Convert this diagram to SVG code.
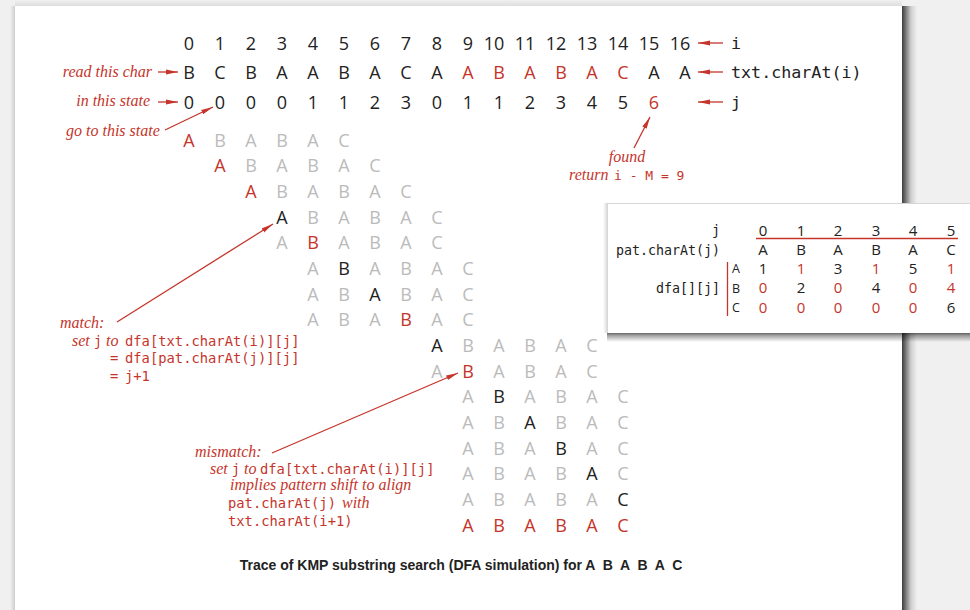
<svg xmlns="http://www.w3.org/2000/svg" width="970" height="610" viewBox="0 0 970 610">
<style>
.bg{fill:#f0f0f0}
.pg{fill:#ffffff}
.s{font-family:"Open Sans","DejaVu Sans",sans-serif;font-size:18px;text-anchor:middle}
.ts{font-family:"Open Sans","DejaVu Sans",sans-serif;font-size:15px;text-anchor:middle}
.tl{font-family:"Open Sans","DejaVu Sans",sans-serif;font-size:12.5px;text-anchor:middle;fill:#222}
.k{fill:#222}
.r{fill:#c5352b}
.l{fill:#bbbbbb}
.it{font-family:"Liberation Serif",serif;font-style:italic;font-size:16px;fill:#c5352b}
.ma{font-family:"DejaVu Sans Mono",monospace;font-style:normal;font-size:13.8px;fill:#c5352b}
.lab{font-family:"DejaVu Sans Mono",monospace;font-size:16.7px;fill:#222}
.tm{font-family:"DejaVu Sans Mono",monospace;font-size:13.3px;fill:#222;text-anchor:end}
.cap{font-family:"Liberation Sans",Arial,sans-serif;font-weight:bold;font-size:14px;fill:#222;text-anchor:middle;white-space:pre}
.ln{stroke:#c5352b;stroke-width:1.3;fill:none}
.arr{stroke:#c5352b;stroke-width:1.3;fill:none;marker-end:url(#ah)}
</style>
<defs>
<marker id="ah" viewBox="0 0 12 6" refX="12" refY="3" markerWidth="12" markerHeight="6" markerUnits="userSpaceOnUse" orient="auto"><path d="M0,0.6 L12,3 L0,5.4 z" fill="#c5352b"/></marker>
<linearGradient id="shR" x1="0" y1="0" x2="1" y2="0"><stop offset="0" stop-color="#000" stop-opacity="0.75"/><stop offset="0.25" stop-color="#000" stop-opacity="0.5"/><stop offset="0.6" stop-color="#000" stop-opacity="0.14"/><stop offset="1" stop-color="#000" stop-opacity="0"/></linearGradient>
<linearGradient id="shB" x1="0" y1="0" x2="0" y2="1"><stop offset="0" stop-color="#000" stop-opacity="0.6"/><stop offset="0.3" stop-color="#000" stop-opacity="0.35"/><stop offset="1" stop-color="#000" stop-opacity="0"/></linearGradient>
<linearGradient id="shL" x1="1" y1="0" x2="0" y2="0"><stop offset="0" stop-color="#000" stop-opacity="0.14"/><stop offset="1" stop-color="#000" stop-opacity="0"/></linearGradient>
<linearGradient id="shT" x1="0" y1="1" x2="0" y2="0"><stop offset="0" stop-color="#000" stop-opacity="0.08"/><stop offset="1" stop-color="#000" stop-opacity="0"/></linearGradient>
</defs>

<g id="page">
<rect class="bg" x="0" y="0" width="970" height="610"/>
<rect x="902" y="6" width="15" height="604" fill="url(#shR)"/>
<rect x="10" y="6" width="5" height="604" fill="url(#shL)"/>
<rect x="15" y="0" width="887" height="6" fill="url(#shT)"/>
<rect class="pg" x="15" y="6" width="887" height="604"/>
</g>

<g id="index-row" class="s k">
<text x="189" y="49.5">0</text><text x="220" y="49.5">1</text><text x="251" y="49.5">2</text><text x="282" y="49.5">3</text><text x="313" y="49.5">4</text><text x="344" y="49.5">5</text><text x="375" y="49.5">6</text><text x="406" y="49.5">7</text><text x="437" y="49.5">8</text><text x="468" y="49.5">9</text><text x="494" y="49.5">10</text><text x="525" y="49.5">11</text><text x="556" y="49.5">12</text><text x="587" y="49.5">13</text><text x="618" y="49.5">14</text><text x="649" y="49.5">15</text><text x="680" y="49.5">16</text>
</g>

<g id="text-row" class="s">
<text y="78.5"><tspan class="k" x="189">B</tspan><tspan class="k" x="220">C</tspan><tspan class="k" x="251">B</tspan><tspan class="k" x="282">A</tspan><tspan class="k" x="313">A</tspan><tspan class="k" x="344">B</tspan><tspan class="k" x="375">A</tspan><tspan class="k" x="406">C</tspan><tspan class="k" x="437">A</tspan><tspan class="r" x="468">A</tspan><tspan class="r" x="499">B</tspan><tspan class="r" x="530">A</tspan><tspan class="r" x="561">B</tspan><tspan class="r" x="592">A</tspan><tspan class="r" x="623">C</tspan><tspan class="k" x="654">A</tspan><tspan class="k" x="685">A</tspan></text>
</g>

<g id="state-row" class="s">
<text y="108.5"><tspan class="k" x="189">0</tspan><tspan class="k" x="220">0</tspan><tspan class="k" x="251">0</tspan><tspan class="k" x="282">0</tspan><tspan class="k" x="313">1</tspan><tspan class="k" x="344">1</tspan><tspan class="k" x="375">2</tspan><tspan class="k" x="406">3</tspan><tspan class="k" x="437">0</tspan><tspan class="k" x="468">1</tspan><tspan class="k" x="499">1</tspan><tspan class="k" x="530">2</tspan><tspan class="k" x="561">3</tspan><tspan class="k" x="592">4</tspan><tspan class="k" x="623">5</tspan><tspan class="r" x="654">6</tspan></text>
</g>

<g id="row-labels">
<text class="lab" x="731" y="49">i</text>
<text class="lab" x="731" y="78">txt.charAt(i)</text>
<text class="lab" x="731" y="108">j</text>
</g>

<g id="trace" class="s">
<text id="trace-0" y="146.5"><tspan class="r" x="189">A</tspan><tspan class="l" x="220">B</tspan><tspan class="l" x="251">A</tspan><tspan class="l" x="282">B</tspan><tspan class="l" x="313">A</tspan><tspan class="l" x="344">C</tspan></text>
<text id="trace-1" y="172.2"><tspan class="r" x="220">A</tspan><tspan class="l" x="251">B</tspan><tspan class="l" x="282">A</tspan><tspan class="l" x="313">B</tspan><tspan class="l" x="344">A</tspan><tspan class="l" x="375">C</tspan></text>
<text id="trace-2" y="197.8"><tspan class="r" x="251">A</tspan><tspan class="l" x="282">B</tspan><tspan class="l" x="313">A</tspan><tspan class="l" x="344">B</tspan><tspan class="l" x="375">A</tspan><tspan class="l" x="406">C</tspan></text>
<text id="trace-3" y="223.5"><tspan class="k" x="282">A</tspan><tspan class="l" x="313">B</tspan><tspan class="l" x="344">A</tspan><tspan class="l" x="375">B</tspan><tspan class="l" x="406">A</tspan><tspan class="l" x="437">C</tspan></text>
<text id="trace-4" y="249.2"><tspan class="l" x="282">A</tspan><tspan class="r" x="313">B</tspan><tspan class="l" x="344">A</tspan><tspan class="l" x="375">B</tspan><tspan class="l" x="406">A</tspan><tspan class="l" x="437">C</tspan></text>
<text id="trace-5" y="274.8"><tspan class="l" x="313">A</tspan><tspan class="k" x="344">B</tspan><tspan class="l" x="375">A</tspan><tspan class="l" x="406">B</tspan><tspan class="l" x="437">A</tspan><tspan class="l" x="468">C</tspan></text>
<text id="trace-6" y="300.5"><tspan class="l" x="313">A</tspan><tspan class="l" x="344">B</tspan><tspan class="k" x="375">A</tspan><tspan class="l" x="406">B</tspan><tspan class="l" x="437">A</tspan><tspan class="l" x="468">C</tspan></text>
<text id="trace-7" y="326.2"><tspan class="l" x="313">A</tspan><tspan class="l" x="344">B</tspan><tspan class="l" x="375">A</tspan><tspan class="r" x="406">B</tspan><tspan class="l" x="437">A</tspan><tspan class="l" x="468">C</tspan></text>
<text id="trace-8" y="351.9"><tspan class="k" x="437">A</tspan><tspan class="l" x="468">B</tspan><tspan class="l" x="499">A</tspan><tspan class="l" x="530">B</tspan><tspan class="l" x="561">A</tspan><tspan class="l" x="592">C</tspan></text>
<text id="trace-9" y="377.5"><tspan class="l" x="437">A</tspan><tspan class="r" x="468">B</tspan><tspan class="l" x="499">A</tspan><tspan class="l" x="530">B</tspan><tspan class="l" x="561">A</tspan><tspan class="l" x="592">C</tspan></text>
<text id="trace-10" y="403.2"><tspan class="l" x="468">A</tspan><tspan class="k" x="499">B</tspan><tspan class="l" x="530">A</tspan><tspan class="l" x="561">B</tspan><tspan class="l" x="592">A</tspan><tspan class="l" x="623">C</tspan></text>
<text id="trace-11" y="428.9"><tspan class="l" x="468">A</tspan><tspan class="l" x="499">B</tspan><tspan class="k" x="530">A</tspan><tspan class="l" x="561">B</tspan><tspan class="l" x="592">A</tspan><tspan class="l" x="623">C</tspan></text>
<text id="trace-12" y="454.5"><tspan class="l" x="468">A</tspan><tspan class="l" x="499">B</tspan><tspan class="l" x="530">A</tspan><tspan class="k" x="561">B</tspan><tspan class="l" x="592">A</tspan><tspan class="l" x="623">C</tspan></text>
<text id="trace-13" y="480.2"><tspan class="l" x="468">A</tspan><tspan class="l" x="499">B</tspan><tspan class="l" x="530">A</tspan><tspan class="l" x="561">B</tspan><tspan class="k" x="592">A</tspan><tspan class="l" x="623">C</tspan></text>
<text id="trace-14" y="505.9"><tspan class="l" x="468">A</tspan><tspan class="l" x="499">B</tspan><tspan class="l" x="530">A</tspan><tspan class="l" x="561">B</tspan><tspan class="l" x="592">A</tspan><tspan class="k" x="623">C</tspan></text>
<text id="trace-15" y="531.5"><tspan class="r" x="468">A</tspan><tspan class="r" x="499">B</tspan><tspan class="r" x="530">A</tspan><tspan class="r" x="561">B</tspan><tspan class="r" x="592">A</tspan><tspan class="r" x="623">C</tspan></text>
</g>

<g id="ann-read"><text class="it" x="152" y="77" text-anchor="end">read this char</text></g>
<g id="ann-state"><text class="it" x="150" y="106" text-anchor="end">in this state</text></g>
<g id="ann-goto"><text class="it" x="66" y="136">go to this state</text></g>
<g id="ann-found">
<text class="it" x="627" y="162" text-anchor="middle">found</text>
<text class="it" x="569" y="180">return</text>
<text class="ma" x="614" y="180" style="font-size:13px;white-space:pre">i - M = 9</text>
</g>

<g id="ann-match">
<text class="it" x="60" y="328">match:</text>
<text class="it" x="72" y="346">set <tspan class="ma">j</tspan> to</text>
<text class="ma" x="125" y="346">dfa[txt.charAt(i)][j]</text>
<text class="ma" x="110" y="363">=</text><text class="ma" x="125" y="363">dfa[pat.charAt(j)][j]</text>
<text class="ma" x="110" y="381">=</text><text class="ma" x="125" y="381">j+1</text>
</g>

<g id="ann-mismatch">
<text class="it" x="195" y="457">mismatch:</text>
<text class="it" x="210" y="474">set <tspan class="ma">j</tspan> to</text>
<text class="ma" x="260" y="474">dfa[txt.charAt(i)][j]</text>
<text class="it" x="230" y="490">implies pattern shift to align</text>
<text class="ma" x="228" y="508">pat.charAt(j)</text><text class="it" x="342" y="508">with</text>
<text class="ma" x="228" y="526">txt.charAt(i+1)</text>
</g>

<g id="dfa-table">
<rect x="603" y="203" width="4" height="130" fill="url(#shL)"/>
<rect x="607" y="333" width="363" height="9" fill="url(#shB)"/>
<rect x="607" y="203" width="370" height="130" fill="#ffffff"/>
<line x1="607" y1="203.5" x2="970" y2="203.5" stroke="#d6d6d6" stroke-width="1"/>
<line x1="607.5" y1="203" x2="607.5" y2="333" stroke="#d6d6d6" stroke-width="1"/>
<text class="tm" x="720" y="235">j</text>
<text class="tm" x="720" y="255">pat.charAt(j)</text>
<text class="tm" x="720" y="293">dfa[][j]</text>
<g class="ts">
<text y="235.5"><tspan class="k" x="763">0</tspan><tspan class="k" x="801">1</tspan><tspan class="k" x="838">2</tspan><tspan class="k" x="876">3</tspan><tspan class="k" x="913">4</tspan><tspan class="k" x="951">5</tspan></text>
<text y="255"><tspan class="k" x="763">A</tspan><tspan class="k" x="801">B</tspan><tspan class="k" x="838">A</tspan><tspan class="k" x="876">B</tspan><tspan class="k" x="913">A</tspan><tspan class="k" x="951">C</tspan></text>
<text y="273.5"><tspan class="k" x="763">1</tspan><tspan class="r" x="801">1</tspan><tspan class="k" x="838">3</tspan><tspan class="r" x="876">1</tspan><tspan class="k" x="913">5</tspan><tspan class="r" x="951">1</tspan></text>
<text y="293"><tspan class="r" x="763">0</tspan><tspan class="k" x="801">2</tspan><tspan class="r" x="838">0</tspan><tspan class="k" x="876">4</tspan><tspan class="r" x="913">0</tspan><tspan class="r" x="951">4</tspan></text>
<text y="312.5"><tspan class="r" x="763">0</tspan><tspan class="r" x="801">0</tspan><tspan class="r" x="838">0</tspan><tspan class="r" x="876">0</tspan><tspan class="r" x="913">0</tspan><tspan class="k" x="951">6</tspan></text>
</g>
<text class="tl" x="736" y="273">A</text>
<text class="tl" x="736" y="292.5">B</text>
<text class="tl" x="736" y="312">C</text>
<line class="ln" x1="756" y1="238.5" x2="958" y2="238.5"/>
<line class="ln" x1="727.5" y1="262" x2="727.5" y2="316"/>
</g>

<g id="connectors">
<line class="arr" x1="158" y1="72" x2="178" y2="72"/>
<line class="arr" x1="158" y1="102" x2="178" y2="102"/>
<line class="arr" x1="165" y1="130" x2="213" y2="107"/>
<line class="arr" x1="723" y1="43" x2="698" y2="43"/>
<line class="arr" x1="723" y1="72" x2="698" y2="72"/>
<line class="arr" x1="723" y1="102" x2="698" y2="102"/>
<line class="arr" x1="634" y1="148" x2="650" y2="117"/>
<line class="arr" x1="117" y1="322" x2="273" y2="224"/>
<line class="arr" x1="272" y1="453" x2="458" y2="373"/>
</g>

<g id="caption"><text class="cap" x="461" y="570">Trace of KMP substring search (DFA simulation) for A  B  A  B  A  C</text></g>
</svg>
